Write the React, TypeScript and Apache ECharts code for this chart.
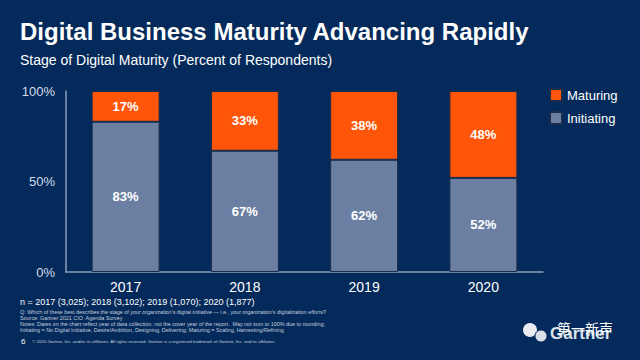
import React, { useEffect, useRef } from "react";
import * as echarts from "echarts";

const years = ["2017", "2018", "2019", "2020"];
const initiating = [83, 67, 62, 52];
const maturing = [17, 33, 38, 48];
const yTicks = [0, 50, 100];

const footnotes = [
  "Q: Which of these best describes the stage of your organization's digital initiative — i.e., your organization's digitalization efforts?",
  "Source: Gartner 2021 CIO  Agenda Survey",
  "Notes: Dates on the chart reflect year of data collection, not the cover year of the report.  May not sum to 100% due to rounding;",
  "Initiating = No Digital Initiative, Desire/Ambition, Designing, Delivering; Maturing = Scaling, Harvesting/Refining",
];

export default function App() {
  const ref = useRef<HTMLDivElement>(null);
  useEffect(() => {
    const chart = echarts.init(ref.current!, null, { renderer: "svg" });
    const font = "'Liberation Sans', Arial, sans-serif";
    const labelStyle = {
      show: true,
      position: "inside",
      color: "#ffffff",
      fontWeight: "bold",
      fontSize: 13,
      fontFamily: font,
      formatter: "{c}%",
    };
    chart.setOption({
      animation: false,
      backgroundColor: "#032a5a",
      textStyle: { fontFamily: font },
      grid: { left: 66, right: 97, top: 91, bottom: 88 },
      legend: {
        orient: "vertical",
        left: 549,
        top: 88,
        padding: 0,
        itemWidth: 12,
        itemHeight: 12,
        itemGap: 9,
        icon: "rect",
        data: ["Maturing", "Initiating"],
        textStyle: { color: "#ffffff", fontSize: 13, fontFamily: font },
      },
      xAxis: {
        type: "category",
        data: years,
        axisLine: { show: true, lineStyle: { color: "#8c9cba", width: 1.5 } },
        axisTick: { show: false },
        axisLabel: { color: "#ffffff", fontSize: 14, margin: 8, fontFamily: font },
      },
      yAxis: {
        type: "value",
        min: yTicks[0],
        max: yTicks[yTicks.length - 1],
        interval: 50,
        axisLine: { show: true, lineStyle: { color: "#8c9cba", width: 1.5 } },
        axisTick: { show: false },
        splitLine: { show: false },
        axisLabel: { color: "#d6dceb", fontSize: 13, margin: 11, formatter: "{value}%", fontFamily: font },
      },
      series: [
        {
          name: "Initiating",
          type: "bar",
          stack: "total",
          data: initiating,
          barWidth: "57%",
          itemStyle: { color: "#6b7fa3", borderColor: "#1b2d4c", borderWidth: 1 },
          label: labelStyle,
        },
        {
          name: "Maturing",
          type: "bar",
          stack: "total",
          data: maturing,
          barWidth: "57%",
          itemStyle: { color: "#fe5508", borderColor: "#1b2d4c", borderWidth: 1 },
          label: labelStyle,
        },
      ],
      graphic: [
        {
          type: "text",
          left: 20,
          top: 19,
          style: {
            text: "Digital Business Maturity Advancing Rapidly",
            fill: "#ffffff",
            font: `bold 24px ${font}`,
          },
        },
        {
          type: "text",
          left: 20,
          top: 53,
          style: {
            text: "Stage of Digital Maturity (Percent of Respondents)",
            fill: "#ffffff",
            font: `14px ${font}`,
          },
        },
        {
          type: "text",
          left: 20,
          top: 297,
          style: {
            text: "n = 2017 (3,025); 2018 (3,102); 2019 (1,070); 2020 (1,877)",
            fill: "#ffffff",
            font: `9px ${font}`,
          },
        },
        ...footnotes.map((t, i) => ({
          type: "text",
          left: 20,
          top: 309 + i * 6.3,
          style: { text: t, fill: "#c4cddd", font: `5.4px ${font}` },
        })),
        {
          type: "text",
          left: 21,
          top: 337,
          style: { text: "6", fill: "#ffffff", font: `8px ${font}` },
        },
        {
          type: "text",
          left: 32,
          top: 339,
          style: {
            text: "© 2020 Gartner, Inc. and/or its affiliates. All rights reserved. Gartner is a registered trademark of Gartner, Inc. and its affiliates.",
            fill: "#c4cddd",
            font: `4.4px ${font}`,
          },
        },
        { type: "circle", shape: { cx: 530, cy: 330, r: 7 }, style: { fill: "#e8ecf2" } },
        { type: "circle", shape: { cx: 541, cy: 336, r: 6 }, style: { fill: "#d9dee7", stroke: "#032a5a", lineWidth: 1 } },
        {
          type: "text",
          left: 550,
          top: 325,
          style: { text: "Gartner", fill: "#dde3ec", font: `bold 17px ${font}` },
        },
        {
          type: "text",
          left: 557,
          top: 321,
          style: { text: "第一新声", fill: "#ffffff", font: `14px 'Noto Sans CJK SC', sans-serif` },
        },
      ],
    });
    return () => chart.dispose();
  }, []);
  return <div ref={ref} style={{ width: 640, height: 360, position: "fixed", left: 0, top: 0 }} />;
}
